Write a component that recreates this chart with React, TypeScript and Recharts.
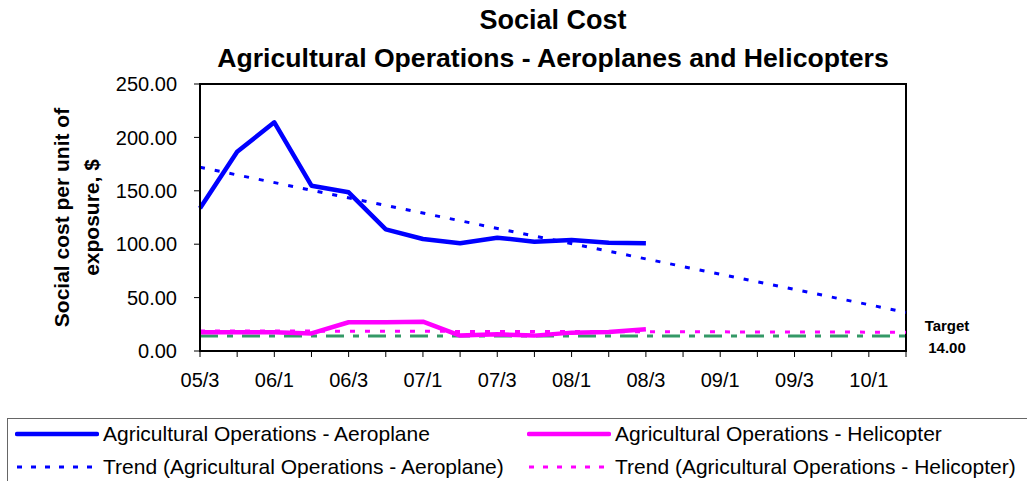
import { LineChart, Line, XAxis, YAxis, ReferenceLine, ReferenceArea } from "recharts"

const FONT = "'Liberation Sans', Arial, sans-serif"

// quarterly periods, labels shown on every second one
const periods = [
  "05/3", "05/4", "06/1", "06/2", "06/3", "06/4", "07/1", "07/2", "07/3", "07/4",
  "08/1", "08/2", "08/3", "08/4", "09/1", "09/2", "09/3", "09/4", "10/1", "10/2",
]
const aeroplane = [133.6, 186.6, 214.1, 154.8, 148.6, 113.9, 104.9, 100.8, 106.1, 102.3, 103.9, 101.4, 100.8]
const helicopter = [17.5, 17.5, 17.5, 16.5, 26.9, 26.9, 27.5, 14.4, 15.6, 14.4, 17.2, 17.8, 20.3]
// linear trend lines: value at first and last period
const aeroplaneTrend = [172.0, 36.2]
const helicopterTrend = [18.8, 17.6]
const target = 14
const yTicks = [0, 50, 100, 150, 200, 250]

const data = periods.map((period, i) => ({
  period,
  aeroplane: aeroplane[i] ?? null,
  helicopter: helicopter[i] ?? null,
  aeroTrend: i === 0 ? aeroplaneTrend[0] : i === periods.length - 1 ? aeroplaneTrend[1] : null,
  heliTrend: i === 0 ? helicopterTrend[0] : i === periods.length - 1 ? helicopterTrend[1] : null,
}))

const YTitle = (props: any) => {
  const vb = props.viewBox
  const cy = vb.y + vb.height / 2
  const style = { fontFamily: FONT, fontSize: 21, fontWeight: "bold" as const, fill: "#000" }
  return (
    <g>
      <text transform={`translate(62,${cy}) rotate(-90)`} textAnchor="middle" dy="0.35em" style={style}>
        Social cost per unit of
      </text>
      <text transform={`translate(92,${cy}) rotate(-90)`} textAnchor="middle" dy="0.35em" style={style}>
        exposure, $
      </text>
    </g>
  )
}

const TargetLabel = (props: any) => {
  const vb = props.viewBox
  const x = vb.x + vb.width + 41
  const style = { fontFamily: FONT, fontSize: 15, fontWeight: "bold" as const, fill: "#000" }
  return (
    <g>
      <text x={x} y={vb.y - 5.5} textAnchor="middle" style={style}>Target</text>
      <text x={x} y={vb.y + 16.5} textAnchor="middle" style={style}>{target.toFixed(2)}</text>
    </g>
  )
}

const legendItems = [
  { name: "Agricultural Operations - Aeroplane", color: "#0000FF", dashed: false, left: 15, top: 434 },
  { name: "Agricultural Operations - Helicopter", color: "#FF00FF", dashed: false, left: 527, top: 434 },
  { name: "Trend (Agricultural Operations - Aeroplane)", color: "#0000FF", dashed: true, left: 15, top: 467 },
  { name: "Trend (Agricultural Operations - Helicopter)", color: "#FF00FF", dashed: true, left: 527, top: 467 },
]

export default function App() {
  return (
    <div style={{ position: "relative", width: 1027, height: 481, overflow: "hidden", background: "#fff", fontFamily: FONT }}>
      <style>{"body{margin:0}"}</style>

      {/* Titel */}
      <div style={{ position: "absolute", left: 553, top: 1, transform: "translateX(-50%)", whiteSpace: "nowrap", textAlign: "center", fontSize: 27, fontWeight: "bold", lineHeight: "38px", color: "#000" }}>
        <div>Social Cost</div>
        <div style={{ fontSize: 26.6 }}>Agricultural Operations - Aeroplanes and Helicopters</div>
      </div>

      <LineChart width={1027} height={481} data={data} margin={{ top: 84, right: 121, left: 100, bottom: 90 }}>
        <XAxis
          dataKey="period"
          interval={0}
          height={40}
          tickSize={6}
          tickMargin={16}
          axisLine={{ stroke: "#000", strokeWidth: 2 }}
          tickLine={{ stroke: "#000" }}
          tick={{ fill: "#000", fontSize: 20, fontFamily: FONT }}
          tickFormatter={(v: string, i: number) => (i % 2 === 0 ? v : "")}
        />
        <YAxis
          domain={[0, 250]}
          ticks={yTicks}
          width={100}
          tickSize={6}
          tickMargin={17}
          axisLine={{ stroke: "#000", strokeWidth: 2 }}
          tickLine={{ stroke: "#000" }}
          tick={{ fill: "#000", fontSize: 20, fontFamily: FONT }}
          tickFormatter={(v: number) => v.toFixed(2)}
          label={YTitle}
        />
        <ReferenceArea x1={periods[0]} x2={periods[periods.length - 1]} y1={0} y2={250} fill="none" stroke="#000" strokeWidth={2} />
        <ReferenceLine y={target} stroke="#339966" strokeWidth={3} strokeDasharray="18 9 6 9" label={TargetLabel} />
        <Line type="linear" dataKey="aeroplane" stroke="#0000FF" strokeWidth={4.5} dot={false} strokeLinejoin="round" isAnimationActive={false} />
        <Line type="linear" dataKey="helicopter" stroke="#FF00FF" strokeWidth={4.5} dot={false} strokeLinejoin="round" isAnimationActive={false} />
        <Line type="linear" dataKey="aeroTrend" stroke="#0000FF" strokeWidth={3} strokeDasharray="5 10" dot={false} connectNulls isAnimationActive={false} />
        <Line type="linear" dataKey="heliTrend" stroke="#FF00FF" strokeWidth={3} strokeDasharray="5 10" dot={false} connectNulls isAnimationActive={false} />
      </LineChart>

      {/* Legende */}
      <div style={{ position: "absolute", left: 7, top: 418, width: 1040, height: 90, border: "1.5px solid #666", boxSizing: "border-box" }} />
      {legendItems.map((it) => (
        <div key={it.name} style={{ position: "absolute", left: it.left, top: it.top - 15, height: 30, display: "flex", alignItems: "center", whiteSpace: "nowrap" }}>
          <svg width={84} height={10} style={{ marginRight: 4 }}>
            <line
              x1={2}
              y1={5}
              x2={82}
              y2={5}
              stroke={it.color}
              strokeWidth={it.dashed ? 3 : 4.5}
              strokeLinecap={it.dashed ? "butt" : "round"}
              strokeDasharray={it.dashed ? "5 9" : undefined}
            />
          </svg>
          <span style={{ fontSize: 21, color: "#000" }}>{it.name}</span>
        </div>
      ))}
    </div>
  )
}
